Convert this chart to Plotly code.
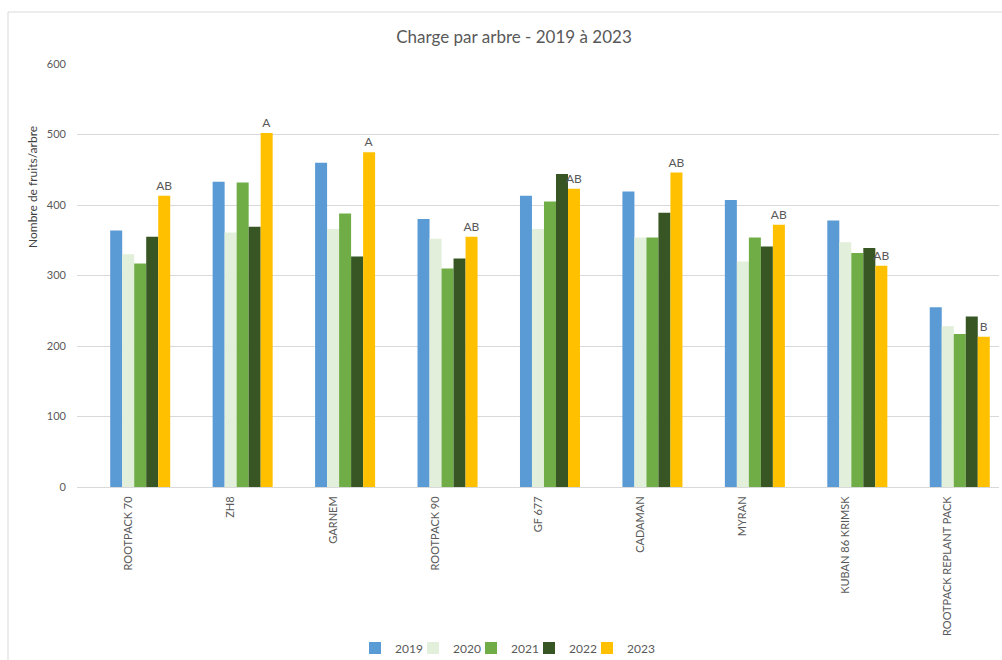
import plotly.graph_objects as go

categories = ["ROOTPACK 70", "ZH8", "GARNEM", "ROOTPACK 90", "GF 677", "CADAMAN",
              "MYRAN", "KUBAN 86 KRIMSK", "ROOTPACK REPLANT PACK"]
years = ["2019", "2020", "2021", "2022", "2023"]
v2019 = [364, 433, 460, 380, 413, 419, 407, 378, 255]
v2020 = [330, 361, 366, 352, 366, 354, 320, 347, 228]
v2021 = [317, 432, 388, 310, 405, 354, 354, 332, 217]
v2022 = [355, 369, 327, 324, 444, 389, 341, 339, 242]
v2023 = [413, 502, 475, 355, 423, 446, 372, 314, 213]
letters_2023 = ["AB", "A", "A", "AB", "AB", "AB", "AB", "AB", "B"]
colors = ["#5B9BD5", "#E2EFDA", "#70AD47", "#375623", "#FFC000"]

series = [v2019, v2020, v2021, v2022, v2023]
FONT = "Lato"
GREY = "#595959"

fig = go.Figure()
bw = 0.1172
start = -0.176
legend_names = ["legend", "legend2", "legend3", "legend4", "legend5"]
for i, (yr, vals, col) in enumerate(zip(years, series, colors)):
    kw = {}
    if yr == "2023":
        kw = dict(text=letters_2023, textposition="outside", constraintext="none",
                  textfont=dict(family=FONT, size=12, color=GREY), cliponaxis=False)
    fig.add_trace(go.Bar(x=categories, y=vals, name=yr, marker_color=col,
                         marker_line_width=0, width=bw, offset=start + i * bw,
                         legend=legend_names[i], **kw))

legend_layout = {}
pitch = 58
first_left = 355
for i, ln in enumerate(legend_names):
    legend_layout[ln] = dict(
        orientation="h", x=(first_left + i * pitch - 77) / 922, xanchor="left",
        y=(487 - 648) / 423, yanchor="middle", bgcolor="rgba(0,0,0,0)",
        font=dict(family=FONT, size=12, color=GREY), itemwidth=30)

fig.update_layout(
    width=1002, height=660,
    barmode="overlay",
    plot_bgcolor="white", paper_bgcolor="white",
    margin=dict(l=77, r=3, t=64, b=173, autoexpand=False),
    title=dict(text="Charge par arbre - 2019 à 2023", x=0.513, xanchor="center",
               y=1 - 37 / 660, yanchor="middle", yref="container",
               font=dict(family=FONT, size=17, color=GREY)),
    font=dict(family=FONT, color=GREY, size=12),
    showlegend=True,
    xaxis=dict(tickangle=-90, showline=True, linecolor="#D9D9D9", linewidth=1,
               tickfont=dict(family=FONT, size=11, color=GREY), ticks="",
               ticklabelstandoff=4, showgrid=False, automargin=False),
    yaxis=dict(range=[0, 600], dtick=100, showgrid=True, gridcolor="#D9D9D9", gridwidth=1,
               zeroline=False, tickfont=dict(family=FONT, size=11, color=GREY),
               ticks="", ticklabelstandoff=10, automargin=False),
    annotations=[dict(text="Nombre de fruits/arbre", textangle=-90, xref="paper", yref="paper",
                      x=(32 - 77) / 922, y=(487 - 187) / 423, xanchor="center", yanchor="middle",
                      showarrow=False, font=dict(family=FONT, size=12, color="#404040"))],
    shapes=[dict(type="rect", xref="paper", yref="paper",
                 x0=(8 - 77) / 922, x1=(1010 - 77) / 922,
                 y0=(487 - 670) / 423, y1=(487 - 12) / 423,
                 line=dict(color="#D9D9D9", width=1), layer="below")],
    **legend_layout,
)

fig.write_html("out.html")
